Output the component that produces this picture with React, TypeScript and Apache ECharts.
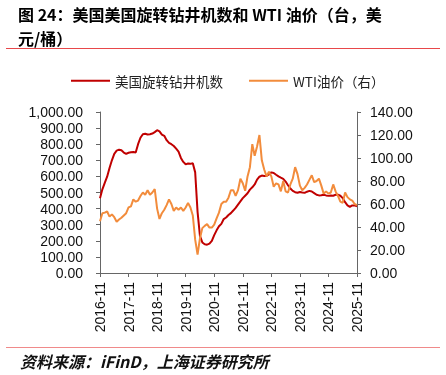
import React, { useEffect, useRef } from "react";
import * as echarts from "echarts";

const startYear = 2016;
const startMonth = 11;
const monthCount = 109;
const categories: string[] = [];
for (let i = 0; i < monthCount; i++) {
  const t = startMonth - 1 + i;
  const y = startYear + Math.floor(t / 12);
  const m = (t % 12) + 1;
  categories.push(`${y}-${String(m).padStart(2, "0")}`);
}

const rigName = "美国旋转钻井机数";
const wtiName = "WTI油价（右）";

const rigCount: number[] = [
  465, 520,
  560, 598, 652, 700, 740, 760, 766, 762, 748, 740, 747, 750,
  752, 748, 800, 840, 862, 865, 860, 862, 866, 875, 887, 880,
  860, 852, 825, 808, 800, 789, 772, 754, 715, 690, 675, 680,
  678, 682, 625, 380, 230, 190, 178, 176, 182, 200, 235, 265,
  290, 305, 335, 345, 360, 372, 388, 405, 425, 445, 465, 480,
  495, 518, 532, 550, 580, 598, 605, 603, 604, 612, 625, 621,
  610, 600, 592, 585, 568, 545, 525, 510, 502, 498, 503, 500,
  498, 505, 510, 506, 496, 486, 482, 483, 486, 482, 479, 482,
  480, 486, 486, 480, 465, 440, 420, 411, 420, 420, 415,
];

const wtiPrice: number[] = [
  45, 52,
  52.5, 53.5, 49, 51, 48.5, 44.5, 46.5, 48, 50, 52, 57, 58,
  64, 62, 63, 67, 70, 68, 72, 68, 70, 73, 56, 47,
  52, 55, 59, 64, 60, 54, 57, 55, 57, 54, 57, 61,
  57, 50, 29, 16, 30, 39, 41, 42.5, 39.5, 39.5, 42, 47.5,
  52.5, 60, 62, 62, 65.5, 72, 72, 67, 72, 82, 78, 71.5,
  84, 92, 112, 102, 110, 120, 98, 90, 84, 88, 84, 75,
  78, 77, 71, 80, 71, 70, 77, 82, 92, 86, 76, 72,
  74, 77, 81, 85, 79, 80, 82, 76, 69, 71, 69, 70,
  77, 71, 67, 62, 61, 70, 66, 64, 63, 60, 59,
];

const titleLine1 = "图 24：美国美国旋转钻井机数和 WTI 油价（台，美";
const titleLine2 = "元/桶）";
const sourceText = "资料来源：iFinD，上海证券研究所";

const fmt = (v: number) =>
  v.toLocaleString("en-US", { minimumFractionDigits: 2, maximumFractionDigits: 2 });

export default function App() {
  const ref = useRef<HTMLDivElement>(null);
  useEffect(() => {
    document.body.style.margin = "0";
    const chart = echarts.init(ref.current!, undefined, { renderer: "svg" });
    const axisColor = "#666666";
    const labelFont = "Liberation Sans";
    const titleFont = 'bold 16px "Noto Sans CJK SC"';
    chart.setOption({
      animation: false,
      legend: {
        left: 66,
        top: 69,
        itemWidth: 39,
        itemHeight: 2,
        itemGap: 26,
        icon: "rect",
        textStyle: { fontSize: 13.5, color: "#222", fontFamily: "Noto Sans CJK SC" },
        data: [rigName, wtiName],
      },
      grid: { left: 100, right: 89, top: 112, bottom: 102 },
      xAxis: {
        type: "category",
        data: categories,
        boundaryGap: false,
        axisLine: { lineStyle: { color: axisColor } },
        axisTick: { interval: 11, length: 4, lineStyle: { color: axisColor } },
        axisLabel: {
          interval: 11,
          rotate: 90,
          margin: 9,
          fontSize: 14,
          color: "#111",
          fontFamily: labelFont,
        },
      },
      yAxis: [
        {
          type: "value",
          min: 0,
          max: 1000,
          interval: 100,
          splitLine: { show: false },
          axisLine: { show: true, lineStyle: { color: axisColor } },
          axisTick: { show: true, length: 4, lineStyle: { color: axisColor } },
          axisLabel: {
            margin: 17,
            fontSize: 14,
            color: "#111",
            fontFamily: labelFont,
            formatter: (v: number) => fmt(v),
          },
        },
        {
          type: "value",
          min: 0,
          max: 140,
          interval: 20,
          position: "right",
          splitLine: { show: false },
          axisLine: { show: true, lineStyle: { color: axisColor } },
          axisTick: { show: true, length: 4, lineStyle: { color: axisColor } },
          axisLabel: {
            margin: 13,
            fontSize: 14,
            color: "#111",
            fontFamily: labelFont,
            formatter: (v: number) => fmt(v),
          },
        },
      ],
      series: [
        {
          name: rigName,
          type: "line",
          data: rigCount,
          yAxisIndex: 0,
          showSymbol: false,
          symbol: "none",
          lineStyle: { color: "#C00000", width: 2 },
          itemStyle: { color: "#C00000" },
        },
        {
          name: wtiName,
          type: "line",
          data: wtiPrice,
          yAxisIndex: 1,
          showSymbol: false,
          symbol: "none",
          lineStyle: { color: "#F28C3C", width: 2 },
          itemStyle: { color: "#F28C3C" },
        },
      ],
      graphic: [
        {
          type: "text",
          x: 18,
          y: 14,
          style: {
            text: titleLine1,
            font: titleFont,
            fill: "#000",
            verticalAlign: "middle",
          },
        },
        {
          type: "text",
          x: 18,
          y: 38,
          style: {
            text: titleLine2,
            font: titleFont,
            fill: "#000",
            verticalAlign: "middle",
          },
        },
        {
          type: "line",
          shape: { x1: 6, y1: 48.5, x2: 440, y2: 48.5 },
          style: { stroke: "#E8474A", lineWidth: 1 },
        },
        {
          type: "line",
          shape: { x1: 6, y1: 347.5, x2: 440, y2: 347.5 },
          style: { stroke: "#F08A8A", lineWidth: 1 },
        },
        {
          type: "text",
          x: 20,
          y: 361,
          style: {
            text: sourceText,
            font: 'italic bold 16px "Noto Sans CJK SC"',
            fill: "#111",
            verticalAlign: "middle",
          },
        },
      ],
    });
    return () => chart.dispose();
  }, []);
  return (
    <div
      ref={ref}
      style={{ position: "fixed", left: 0, top: 0, width: 446, height: 375 }}
    />
  );
}
